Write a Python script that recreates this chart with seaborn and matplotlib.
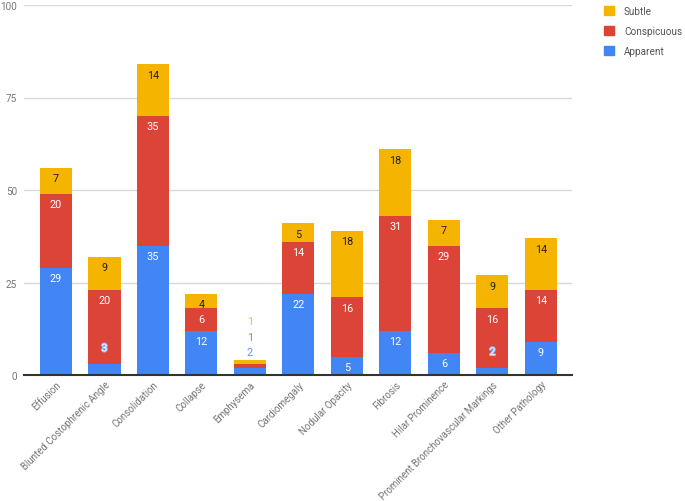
import matplotlib
matplotlib.use("Agg")
import matplotlib.pyplot as plt
import matplotlib.patheffects as pe
from matplotlib.patches import Patch
import seaborn as sns
import pandas as pd
import numpy as np

categories = ["Effusion", "Blunted Costophrenic Angle", "Consolidation", "Collapse",
              "Emphysema", "Cardiomegaly", "Nodular Opacity", "Fibrosis",
              "Hilar Prominence", "Prominent Bronchovascular Markings", "Other Pathology"]
apparent = [29, 3, 35, 12, 2, 22, 5, 12, 6, 2, 9]
conspicuous = [20, 20, 35, 6, 1, 14, 16, 31, 29, 16, 14]
subtle = [7, 9, 14, 4, 1, 5, 18, 18, 7, 9, 14]

C_APP = "#4285F4"
C_CON = "#DB4437"
C_SUB = "#F4B400"

sns.set_style("white")
plt.rcParams['font.family'] = ['Roboto', 'DejaVu Sans']

df = pd.DataFrame({"cat": categories, "app": apparent, "con": conspicuous, "sub": subtle})
df["c2"] = df["app"] + df["con"]
df["c3"] = df["c2"] + df["sub"]

fig = plt.figure(figsize=(6.85, 5.02), dpi=100)
ax = fig.add_axes([24/685, 1-376/502, (572-24)/685, (376-6)/502])

W = 0.66
sns.barplot(data=df, x="cat", y="c3", color=C_SUB, saturation=1, width=W, ax=ax, linewidth=0, zorder=2)
sns.barplot(data=df, x="cat", y="c2", color=C_CON, saturation=1, width=W, ax=ax, linewidth=0, zorder=3)
sns.barplot(data=df, x="cat", y="app", color=C_APP, saturation=1, width=W, ax=ax, linewidth=0, zorder=4)

ax.set_ylim(0, 100)
ax.set_xlim(-0.66, 10.64)
ax.set_yticks([0, 25, 50, 75, 100])
ax.yaxis.grid(True, color="#d9d9d9", linewidth=1, zorder=0)
ax.set_axisbelow(True)
for s in ["top", "right", "left"]:
    ax.spines[s].set_visible(False)
ax.spines["bottom"].set_color("#333333")
ax.spines["bottom"].set_linewidth(1.5)
ax.spines["bottom"].set_zorder(6)
ax.set_xlabel("")
ax.set_ylabel("")
ax.tick_params(axis="x", length=0, labelsize=7, colors="#757575", pad=3)
ax.tick_params(axis="y", length=0, labelsize=7.2, colors="#757575", pad=5)
plt.setp(ax.get_xticklabels(), rotation=45, ha="right", rotation_mode="anchor")

PX = 0.72  # points per pixel
fs = 7.8
for i in range(len(categories)):
    a, c, s = apparent[i], conspicuous[i], subtle[i]
    tops = [a, a + c, a + c + s]
    vals = [a, c, s]
    tcols = ["white", "white", "#222222"]
    if categories[i] == "Emphysema":
        top = a + c + s
        for v, off, col in [(a, 8, "#5b95f5"), (c, 23, "#e2675d"), (s, 39, "#f5be22")]:
            ax.annotate(str(v), (i, top), xytext=(0, off * PX), textcoords="offset points",
                        ha="center", va="center", fontsize=fs, color=col, zorder=7)
        continue
    for k in range(3):
        v = vals[k]
        if v < 4:
            ax.annotate(str(v), (i, tops[k]), xytext=(0, 15.5 * PX), textcoords="offset points",
                        ha="center", va="center", fontsize=fs, color="white", zorder=7,
                        path_effects=[pe.withStroke(linewidth=1.5, foreground="#8ab4f8")])
        else:
            ax.annotate(str(v), (i, tops[k]), xytext=(0, -10.5 * PX), textcoords="offset points",
                        ha="center", va="center", fontsize=fs, color=tcols[k], zorder=7)

handles = [Patch(color=C_SUB, label="Subtle"), Patch(color=C_CON, label="Conspicuous"),
           Patch(color=C_APP, label="Apparent")]
fig.legend(handles=handles, loc="upper left", bbox_to_anchor=(595/685, 1.0 + 2/502), frameon=False,
           fontsize=7.2, labelcolor="#555555", handlelength=1.0, handleheight=1.0,
           handletextpad=1.0, labelspacing=1.0)

fig.savefig("out.png", dpi=100)
